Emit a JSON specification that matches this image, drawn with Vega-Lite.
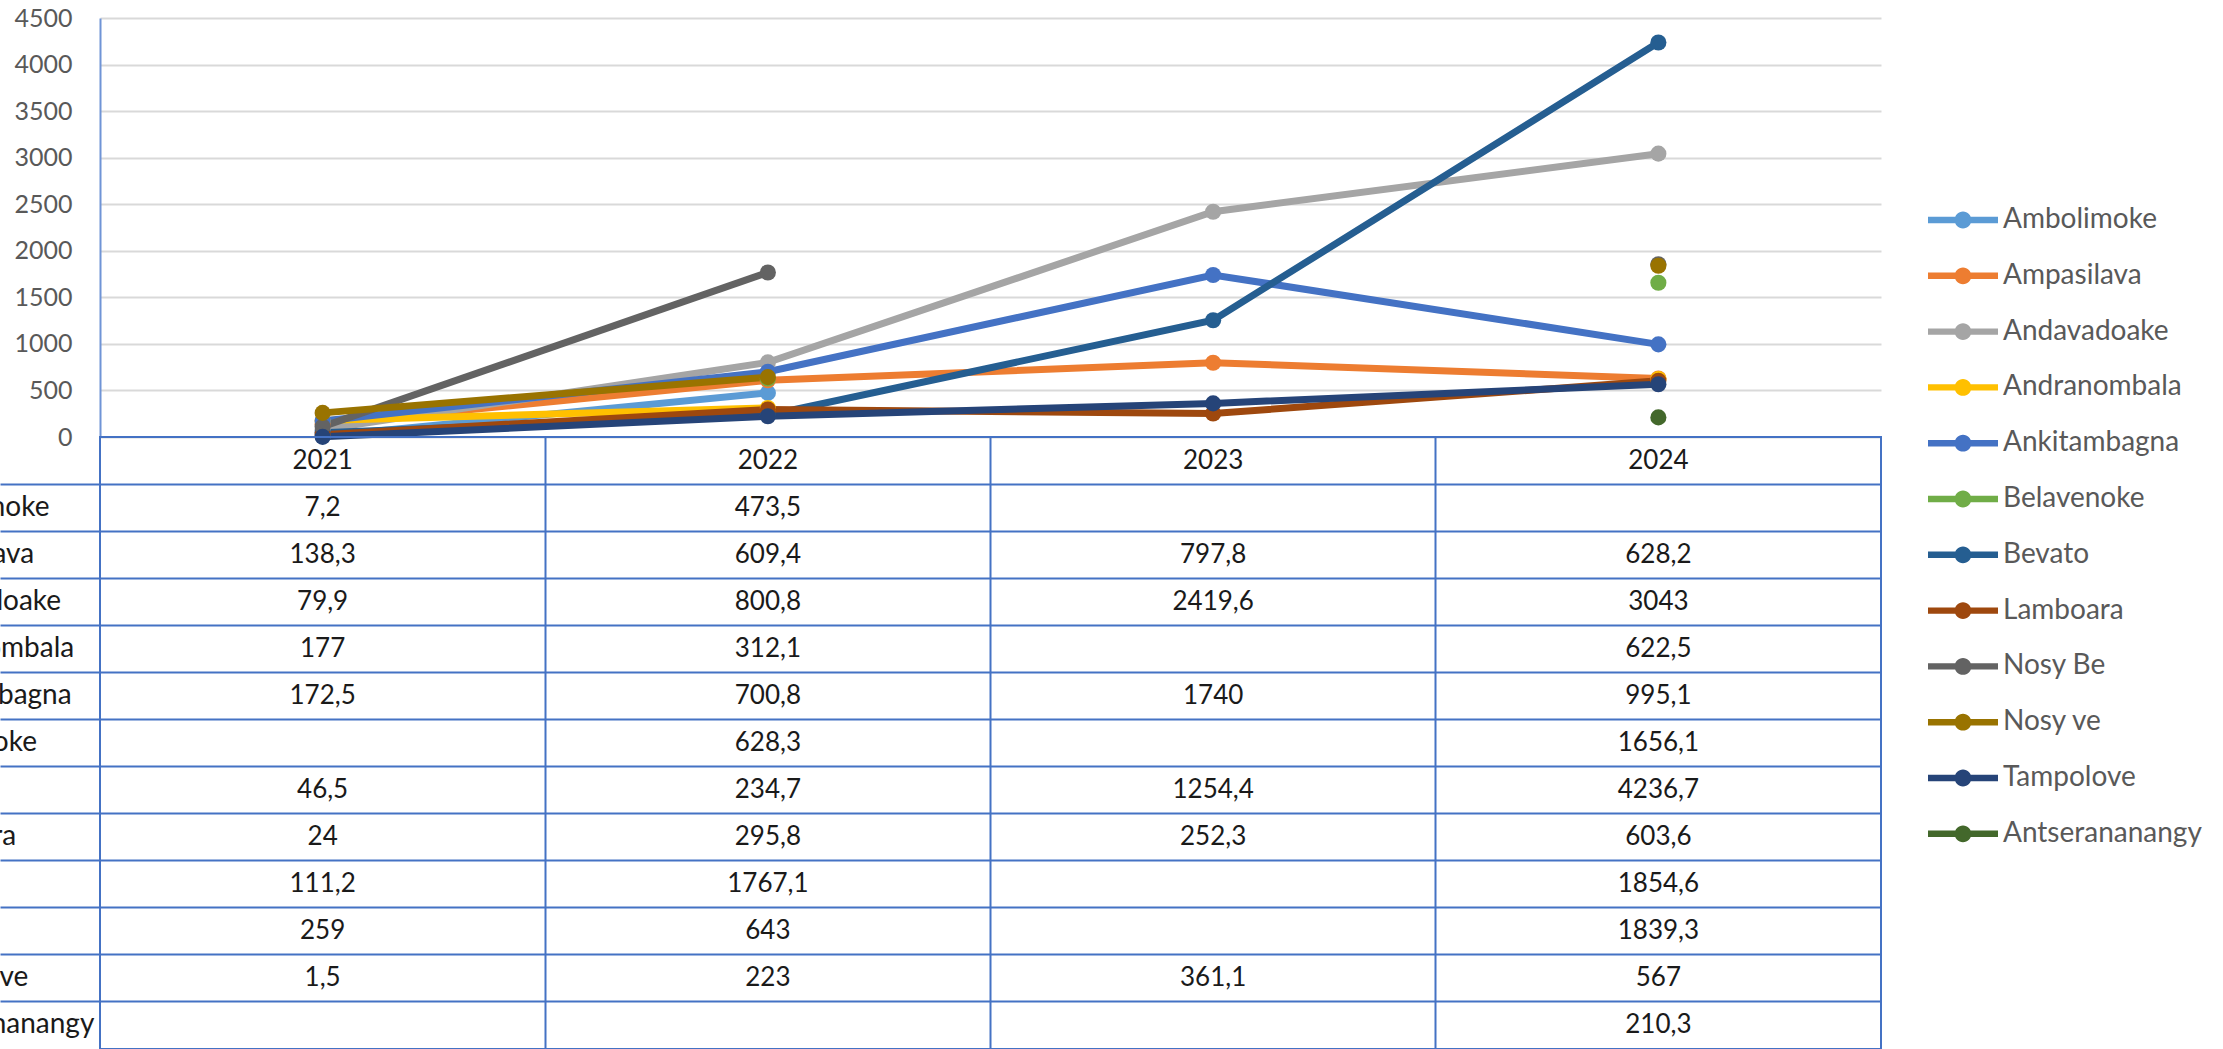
{
  "$schema": "https://vega.github.io/schema/vega-lite/v6.json",
  "autosize": {"type": "none"},
  "padding": {"left": 100, "top": 18, "right": 2123, "bottom": 1031},
  "background": "white",
  "datasets": {
    "values": [
      {"series": "Ambolimoke", "year": "2021", "value": 7.2},
      {"series": "Ambolimoke", "year": "2022", "value": 473.5},
      {"series": "Ambolimoke", "year": "2023", "value": null},
      {"series": "Ambolimoke", "year": "2024", "value": null},
      {"series": "Ampasilava", "year": "2021", "value": 138.3},
      {"series": "Ampasilava", "year": "2022", "value": 609.4},
      {"series": "Ampasilava", "year": "2023", "value": 797.8},
      {"series": "Ampasilava", "year": "2024", "value": 628.2},
      {"series": "Andavadoake", "year": "2021", "value": 79.9},
      {"series": "Andavadoake", "year": "2022", "value": 800.8},
      {"series": "Andavadoake", "year": "2023", "value": 2419.6},
      {"series": "Andavadoake", "year": "2024", "value": 3043},
      {"series": "Andranombala", "year": "2021", "value": 177},
      {"series": "Andranombala", "year": "2022", "value": 312.1},
      {"series": "Andranombala", "year": "2023", "value": null},
      {"series": "Andranombala", "year": "2024", "value": 622.5},
      {"series": "Ankitambagna", "year": "2021", "value": 172.5},
      {"series": "Ankitambagna", "year": "2022", "value": 700.8},
      {"series": "Ankitambagna", "year": "2023", "value": 1740},
      {"series": "Ankitambagna", "year": "2024", "value": 995.1},
      {"series": "Belavenoke", "year": "2021", "value": null},
      {"series": "Belavenoke", "year": "2022", "value": 628.3},
      {"series": "Belavenoke", "year": "2023", "value": null},
      {"series": "Belavenoke", "year": "2024", "value": 1656.1},
      {"series": "Bevato", "year": "2021", "value": 46.5},
      {"series": "Bevato", "year": "2022", "value": 234.7},
      {"series": "Bevato", "year": "2023", "value": 1254.4},
      {"series": "Bevato", "year": "2024", "value": 4236.7},
      {"series": "Lamboara", "year": "2021", "value": 24},
      {"series": "Lamboara", "year": "2022", "value": 295.8},
      {"series": "Lamboara", "year": "2023", "value": 252.3},
      {"series": "Lamboara", "year": "2024", "value": 603.6},
      {"series": "Nosy Be", "year": "2021", "value": 111.2},
      {"series": "Nosy Be", "year": "2022", "value": 1767.1},
      {"series": "Nosy Be", "year": "2023", "value": null},
      {"series": "Nosy Be", "year": "2024", "value": 1854.6},
      {"series": "Nosy ve", "year": "2021", "value": 259},
      {"series": "Nosy ve", "year": "2022", "value": 643},
      {"series": "Nosy ve", "year": "2023", "value": null},
      {"series": "Nosy ve", "year": "2024", "value": 1839.3},
      {"series": "Tampolove", "year": "2021", "value": 1.5},
      {"series": "Tampolove", "year": "2022", "value": 223},
      {"series": "Tampolove", "year": "2023", "value": 361.1},
      {"series": "Tampolove", "year": "2024", "value": 567},
      {"series": "Antserananangy", "year": "2021", "value": null},
      {"series": "Antserananangy", "year": "2022", "value": null},
      {"series": "Antserananangy", "year": "2023", "value": null},
      {"series": "Antserananangy", "year": "2024", "value": 210.3}
    ],
    "years": [{"year": "2021"}, {"year": "2022"}, {"year": "2023"}, {"year": "2024"}]
  },
  "spacing": 0,
  "bounds": "flush",
  "resolve": {"scale": {"x": "independent", "y": "independent"}},
  "vconcat": [
    {
      "width": 1781,
      "height": 419,
      "view": {"stroke": null},
      "data": {"name": "values"},
      "layer": [
        {
          "mark": {"type": "line", "strokeWidth": 7, "invalid": "break-paths-filter-domains"},
          "encoding": {
            "x": {"field": "year", "type": "ordinal", "scale": {"type": "point", "padding": 0.5}, "axis": null},
            "y": {
              "field": "value", "type": "quantitative",
              "scale": {"domain": [0, 4500], "nice": false, "zero": true},
              "axis": {
                "values": [0, 500, 1000, 1500, 2000, 2500, 3000, 3500, 4000, 4500], "format": "d",
                "title": null, "ticks": false, "tickSize": 0, "labelPadding": 28,
                "labelFont": "Lato", "labelFontSize": 25, "labelColor": "#595959", "labelFlush": false,
                "domainColor": "#6F94D6", "domainWidth": 2,
                "grid": true, "gridColor": "#D9D9D9", "gridWidth": 2
              }
            },
            "stroke": {
              "field": "series", "type": "nominal",
              "scale": {
                "domain": ["Ambolimoke", "Ampasilava", "Andavadoake", "Andranombala", "Ankitambagna", "Belavenoke", "Bevato", "Lamboara", "Nosy Be", "Nosy ve", "Tampolove", "Antserananangy"],
                "range": ["#5B9BD5", "#ED7D31", "#A5A5A5", "#FFC000", "#4472C4", "#70AD47", "#255E91", "#9E480E", "#636363", "#997300", "#264478", "#43682B"]
              },
              "legend": {
                "orient": "none", "legendX": 1843, "legendY": 182, "direction": "vertical",
                "title": null, "padding": 0,
                "symbolType": "M-1.75,-0.16H1.75V0.16H-1.75Z M0.42,0A0.42,0.42,0,1,1,-0.42,0A0.42,0.42,0,1,1,0.42,0Z",
                "symbolSize": 1600, "symbolOpacity": 1, "symbolStrokeWidth": 0,
                "labelFont": "Lato", "labelFontSize": 28, "labelColor": "#595959", "labelOffset": 20, "labelLimit": 400,
                "rowPadding": 21.8
              }
            }
          }
        },
        {
          "mark": {"type": "point", "filled": true, "size": 260, "opacity": 1, "invalid": "filter"},
          "encoding": {
            "x": {"field": "year", "type": "ordinal"},
            "y": {"field": "value", "type": "quantitative"},
            "color": {
              "field": "series", "type": "nominal",
              "scale": {
                "domain": ["Ambolimoke", "Ampasilava", "Andavadoake", "Andranombala", "Ankitambagna", "Belavenoke", "Bevato", "Lamboara", "Nosy Be", "Nosy ve", "Tampolove", "Antserananangy"],
                "range": ["#5B9BD5", "#ED7D31", "#A5A5A5", "#FFC000", "#4472C4", "#70AD47", "#255E91", "#9E480E", "#636363", "#997300", "#264478", "#43682B"]
              },
              "legend": {
                "orient": "none", "legendX": 1843, "legendY": 182, "direction": "vertical",
                "title": null, "padding": 0,
                "symbolType": "M-1.75,-0.16H1.75V0.16H-1.75Z M0.42,0A0.42,0.42,0,1,1,-0.42,0A0.42,0.42,0,1,1,0.42,0Z",
                "symbolSize": 1600, "symbolOpacity": 1, "symbolStrokeWidth": 0,
                "labelFont": "Lato", "labelFontSize": 28, "labelColor": "#595959", "labelOffset": 20, "labelLimit": 400,
                "rowPadding": 21.8
              }
            }
          }
        }
      ]
    },
    {
      "width": 1781,
      "height": 612,
      "view": {"stroke": "#4472C4", "strokeWidth": 2},
      "layer": [
        {
          "data": {"name": "values"},
          "transform": [{"filter": "isValid(datum.value)"}],
          "mark": {"type": "text", "font": "Lato", "fontSize": 26, "fill": "#1a1a1a", "align": "center", "baseline": "middle"},
          "encoding": {
            "x": {
              "field": "year", "type": "ordinal",
              "scale": {"type": "band", "domain": ["2021", "2022", "2023", "2024"], "paddingInner": 0, "paddingOuter": 0},
              "axis": {"orient": "top", "values": ["2022", "2023", "2024"], "bandPosition": 0, "grid": true, "gridColor": "#4472C4", "gridWidth": 2, "labels": false, "ticks": false, "domain": false, "title": null}
            },
            "y": {
              "field": "series", "type": "nominal",
              "scale": {"type": "band", "domain": ["header", "Ambolimoke", "Ampasilava", "Andavadoake", "Andranombala", "Ankitambagna", "Belavenoke", "Bevato", "Lamboara", "Nosy Be", "Nosy ve", "Tampolove", "Antserananangy"], "paddingInner": 0, "paddingOuter": 0},
              "axis": {
                "values": ["Ambolimoke", "Ampasilava", "Andavadoake", "Andranombala", "Ankitambagna", "Belavenoke", "Bevato", "Lamboara", "Nosy Be", "Nosy ve", "Tampolove", "Antserananangy"],
                "bandPosition": 0, "grid": true, "gridColor": "#4472C4", "gridWidth": 2,
                "ticks": true, "tickSize": 100, "tickColor": "#4472C4", "tickWidth": 2,
                "domain": false, "title": null,
                "labelAlign": "left", "labelBaseline": "middle", "labelPadding": 105, "labelOffset": 0,
                "labelFont": "Lato", "labelFontSize": 28, "labelColor": "#1a1a1a", "labelLimit": 1000, "labelOverlap": false
              }
            },
            "text": {"field": "value", "type": "quantitative", "format": "~g"}
          }
        },
        {
          "data": {"name": "years"},
          "mark": {"type": "text", "font": "Lato", "fontSize": 26, "fill": "#1a1a1a", "align": "center", "baseline": "middle"},
          "encoding": {
            "x": {
              "field": "year", "type": "ordinal",
              "axis": {"orient": "top", "values": ["2022", "2023", "2024"], "bandPosition": 0, "grid": true, "gridColor": "#4472C4", "gridWidth": 2, "labels": false, "ticks": false, "domain": false, "title": null}
            },
            "y": {
              "datum": "header", "type": "nominal",
              "axis": {
                "values": ["Ambolimoke", "Ampasilava", "Andavadoake", "Andranombala", "Ankitambagna", "Belavenoke", "Bevato", "Lamboara", "Nosy Be", "Nosy ve", "Tampolove", "Antserananangy"],
                "bandPosition": 0, "grid": true, "gridColor": "#4472C4", "gridWidth": 2,
                "ticks": true, "tickSize": 100, "tickColor": "#4472C4", "tickWidth": 2,
                "domain": false, "title": null,
                "labelAlign": "left", "labelBaseline": "middle", "labelPadding": 105, "labelOffset": 0,
                "labelFont": "Lato", "labelFontSize": 28, "labelColor": "#1a1a1a", "labelLimit": 1000, "labelOverlap": false
              }
            },
            "text": {"field": "year", "type": "nominal"}
          }
        }
      ]
    }
  ],
  "config": {
    "font": "Lato",
    "locale": {"number": {"decimal": ",", "thousands": " ", "grouping": [3], "currency": ["", ""]}}
  }
}
